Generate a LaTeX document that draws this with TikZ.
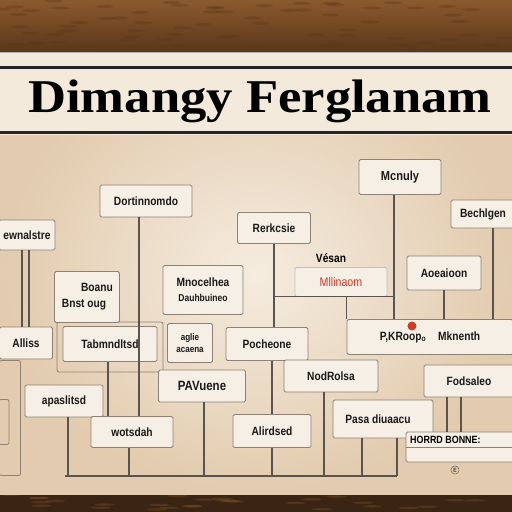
\documentclass[tikz,border=0pt]{standalone}
\usepackage{fontspec}
\setmainfont{Liberation Serif}
\newfontfamily\boxfont[FakeStretch=0.85]{Liberation Sans}
\newfontfamily\titlefont{Liberation Serif}
\definecolor{woodA}{HTML}{8A5A2E}
\definecolor{woodB}{HTML}{5A3618}
\definecolor{woodC}{HTML}{3A2414}
\definecolor{boardIn}{HTML}{F5ECDF}
\definecolor{boardOut}{HTML}{E2CBAE}
\definecolor{bandC}{HTML}{F4EADB}
\definecolor{boxfill}{HTML}{F6EFE5}
\definecolor{boxline}{HTML}{8E8276}
\definecolor{lnC}{HTML}{5A544E}
\definecolor{redT}{HTML}{D23A28}
\tikzset{
  bx/.style={draw=boxline, line width=0.8pt, fill=boxfill, rounded corners=1.5pt,
    inner sep=0pt, font=\boxfont\bfseries\fontsize{12}{13}\selectfont, text=black!90,
    align=center},
  fr/.style={draw=boxline, line width=0.8pt, rounded corners=2pt, inner sep=0pt},
  ln/.style={draw=lnC, line width=1.1pt},
}
\begin{document}
\begin{tikzpicture}[x=1pt,y=-1pt]
\useasboundingbox (0,0) rectangle (512,512);
% wood
\fill[top color=woodA, bottom color=woodB] (0,0) rectangle (512,52);
\fill[woodC] (0,492) rectangle (512,512);
\pgfmathsetseed{7}
\foreach \i in {1,...,70}{
  \pgfmathsetmacro{\xx}{rnd*512}\pgfmathsetmacro{\yy}{rnd*48}
  \fill[woodB, opacity=0.35] (\xx,\yy) ellipse (9pt and 1.5pt);
}
\foreach \i in {1,...,30}{
  \pgfmathsetmacro{\xx}{rnd*512}\pgfmathsetmacro{\yy}{494+rnd*16}
  \fill[woodA, opacity=0.3] (\xx,\yy) ellipse (10pt and 1.2pt);
}
% board
\shade[inner color=boardIn, outer color=boardOut] (0,52) rectangle (512,494);
\fill[bandC] (0,52) rectangle (512,135);
\draw[black!85, line width=3pt] (0,67) -- (512,67);
\draw[black!85, line width=3pt] (0,132) -- (512,132);
\draw[black!30, line width=0.6pt] (0,52) -- (512,52);
\node[font=\titlefont\bfseries\fontsize{47}{50}\selectfont, inner sep=0pt, xscale=1.12] (title) at (260,101) {Dimangy Ferglanam};

% outer frames
\node[fr, minimum width=106pt, minimum height=50pt] (tfr) at (110,347) {};
\node[fr, minimum width=21pt, minimum height=115pt] (lfr) at (10,418) {};
\node[fr, minimum width=10pt, minimum height=45pt] (lfi) at (4,422) {};

% boxes
\node[bx, minimum width=92pt, minimum height=32pt] (b1) at (146,201) {Dortinnomdo};
\node[bx, minimum width=56pt, minimum height=30pt] (b2) at (27,235) {ewnalstre};
\node[bx, minimum width=65pt, minimum height=51pt] (b3) at (87,297) {\hspace*{20pt}Boanu\\[3pt]Bnst oug\hspace*{6pt}};
\node[bx, minimum width=80pt, minimum height=49pt] (b4) at (203,290) {Mnocelhea\\[2pt]{\fontsize{10}{11}\selectfont Dauhbuineo}};
\node[bx, minimum width=73pt, minimum height=31pt] (b5) at (274,228) {Rerkcsie};
\node[bx, minimum width=82pt, minimum height=35pt, font=\boxfont\bfseries\fontsize{13}{14}\selectfont] (b6) at (400,177) {Mcnuly};
\node[bx, minimum width=64pt, minimum height=28pt] (b7) at (483,214) {Bechlgen};
\node[font=\boxfont\bfseries\fontsize{12}{13}\selectfont, inner sep=0pt] (t8) at (331,258) {Vésan};
\node[bx, draw=boxline!50, minimum width=92pt, minimum height=29pt, text=redT, font=\boxfont\fontsize{12.5}{13}\selectfont] (b8) at (341,282) {Mllinaom};
\node[bx, minimum width=74pt, minimum height=34pt] (b9) at (444,273) {Aoeaioon};
\node[bx, minimum width=53pt, minimum height=32pt] (b10) at (26,343) {Alliss};
\node[bx, minimum width=94pt, minimum height=35pt] (b11) at (110,344) {Tabmndltsd};
\node[bx, minimum width=45pt, minimum height=39pt, font=\boxfont\bfseries\fontsize{9.5}{10}\selectfont] (b12) at (190,343) {aglie\\[2pt]acaena};
\node[bx, minimum width=82pt, minimum height=33pt] (b13) at (267,344) {Pocheone};
\node[bx, minimum width=166pt, minimum height=35pt] (b14) at (430,337) {P,KRoop\textsubscript{o}\quad Mknenth};
\fill[redT] (412,326) circle (4.5pt);
\node[bx, minimum width=87pt, minimum height=32pt, font=\boxfont\bfseries\fontsize{13.5}{14}\selectfont] (b15) at (202,386) {PAVuene};
\node[bx, minimum width=94pt, minimum height=32pt] (b16) at (331,376) {NodRolsa};
\node[bx, minimum width=90pt, minimum height=32pt] (b17) at (469,381) {Fodsaleo};
\node[bx, minimum width=78pt, minimum height=32pt] (b18) at (64,401) {apaslitsd};
\node[bx, minimum width=82pt, minimum height=31pt] (b19) at (132,432) {wotsdah};
\node[bx, minimum width=78pt, minimum height=33pt] (b20) at (272,431) {Alirdsed};
\node[bx, minimum width=100pt, minimum height=38pt] (b21) at (383,419) {Pasa diuaacu\hspace*{10pt}};
\node[bx, minimum width=108pt, minimum height=30pt] (b22) at (460,447) {};
\draw[boxline, line width=0.6pt] (b22.west) -- (b22.east);
\node[font=\boxfont\bfseries\fontsize{10.5}{11}\selectfont, inner sep=0pt, anchor=west] (t22) at (410,440) {HORRD BONNE:};
\node[draw=lnC, circle, inner sep=1pt, font=\boxfont\fontsize{6}{7}\selectfont] (ic) at (455,470) {E};

% connectors
\coordinate (bl) at (65,476);
\coordinate (br) at (397,476);
\draw[ln] (bl) -- (br);
\draw[ln] ([xshift=-7pt]b1.south) -- ([xshift=-7pt]b1.south |- b19.north);
\draw[ln] ([xshift=-5pt]b2.south) -- ([xshift=-5pt]b2.south |- b10.north);
\draw[ln] ([xshift=2pt]b2.south) -- ([xshift=2pt]b2.south |- b10.north);
\draw[ln] (b5.south) -- (b5.south |- b13.north);
\draw[ln] (b5.south |- b8.south) -- ([xshift=-6pt]b6.south |- b8.south);
\draw[ln] ([xshift=-6pt]b6.south) -- ([xshift=-6pt]b6.south |- b14.north);
\draw[ln] (b14.north west |- b8.south) -- (b14.north west);
\draw[ln] (b9.south) -- (b9.south |- b14.north);
\draw[ln] ([xshift=10pt]b7.south) -- ([xshift=10pt]b7.south |- b14.north);
\draw[ln] ([xshift=-2pt]b11.south) -- ([xshift=-2pt]b11.south |- b19.north);
\draw[ln] ([xshift=4pt]b18.south) -- ([xshift=4pt]b18.south |- bl);
\draw[ln] ([xshift=-3pt]b19.south) -- ([xshift=-3pt]b19.south |- bl);
\draw[ln] ([xshift=2pt]b15.south) -- ([xshift=2pt]b15.south |- bl);
\draw[ln] ([xshift=5pt]b13.south) -- ([xshift=5pt]b13.south |- b20.north);
\draw[ln] (b20.south) -- (b20.south |- bl);
\draw[ln] ([xshift=-7pt]b16.south) -- ([xshift=-7pt]b16.south |- bl);
\draw[ln] ([xshift=-21pt]b21.south) -- ([xshift=-21pt]b21.south |- bl);
\draw[ln] ([xshift=14pt]b21.south) -- ([xshift=14pt]b21.south |- br);
\draw[ln, line width=1.8pt] ([xshift=-22pt]b17.south) -- ([xshift=-22pt]b17.south |- b22.north);
\draw[ln, line width=1.8pt] ([xshift=-8pt]b17.south) -- ([xshift=-8pt]b17.south |- b22.north);
\end{tikzpicture}
\end{document}
